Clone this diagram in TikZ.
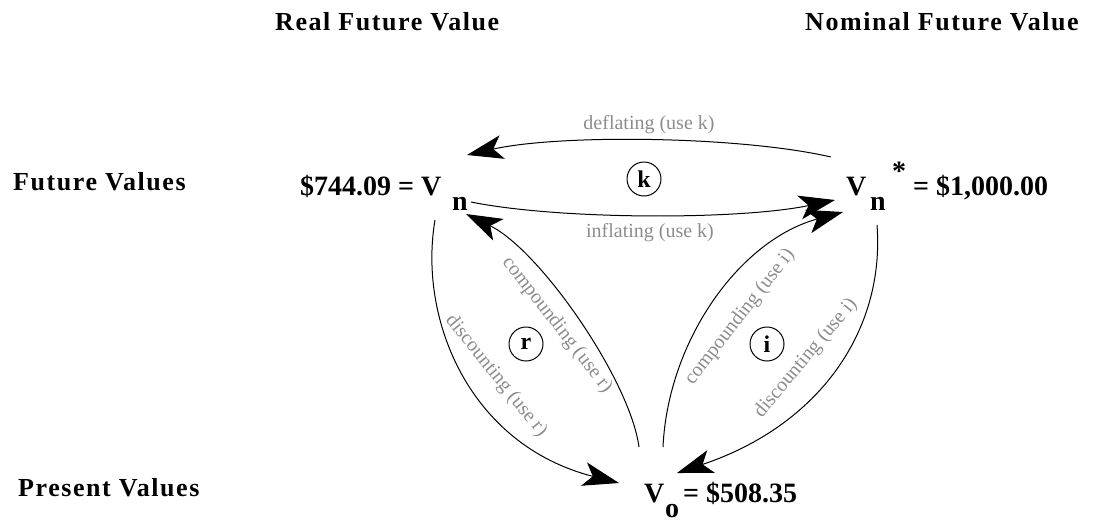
\documentclass[tikz,border=0pt]{standalone}
\usepackage{fontspec}
\setmainfont{Liberation Serif}
\newfontfamily\titlefont[LetterSpace=6]{Liberation Serif}
\usetikzlibrary{arrows.meta}
\tikzset{
  title/.style={anchor=base west, inner sep=0pt, font=\titlefont\bfseries\fontsize{26}{30}\selectfont},
  val/.style={anchor=base west, inner sep=0pt, font=\bfseries\fontsize{28}{32}\selectfont},
  lbl/.style={inner sep=0pt, text=black!45, font=\fontsize{20}{24}\selectfont},
  rate/.style={circle, draw, line width=1pt, minimum size=34pt, inner sep=0pt, font=\bfseries\fontsize{24}{28}\selectfont},
  arr/.style={line width=1pt, -{Stealth[length=36pt,width=24pt,inset=9pt]}}
}
\begin{document}
\begin{tikzpicture}[x=1pt,y=-1pt]
\useasboundingbox (0,0) rectangle (1093,523);
% titles
\node[title] (trf) at (275,30) {Real Future Value};
\node[title] (tnf) at (805,30) {Nominal Future Value};
\node[title] (tfv) at (13,190) {Future Values};
\node[title] (tpv) at (18,496) {Present Values};
% values
\node[val] (vl) at (300,195) {\$744.09 = V};
\node[val] (vln) at (452,210) {n};
\node[val] (vr) at (846,195) {V};
\node[val] (vrn) at (870,210) {n};
\node[val] (vrs) at (892,180) {*};
\node[val] (vre) at (913,195) {= \$1,000.00};
\node[val] (vb) at (644,502) {V};
\node[val] (vbo) at (665,517) {o};
\node[val] (vbe) at (683,502) {= \$508.35};
% rate circles
\node[rate] (k) at (644,179) {k};
\node[rate] (r) at (526,344) {r};
\node[rate] (i) at (767,344) {i};
% connector end points
\coordinate (defS) at (831,157);
\coordinate (defE) at (467,155);
\coordinate (infS) at (471,202);
\coordinate (infE) at (835,200);
\coordinate (drS) at (435,220);
\coordinate (drE) at (619,483);
\coordinate (crS) at (639,447);
\coordinate (crE) at (466,214);
\coordinate (ciS) at (663,447);
\coordinate (ciE) at (843,212);
\coordinate (diS) at (877,225);
\coordinate (diE) at (677,473);
% connectors
\draw[arr] (defS) .. controls (740,136) and (560,134) .. (defE);
\draw[arr] (infS) .. controls (560,220) and (740,220) .. (infE);
\draw[arr] (drS) .. controls (418,320) and (470,445) .. (drE);
\draw[arr] (crS) .. controls (630,380) and (540,250) .. (crE);
\draw[arr] (ciS) .. controls (668,340) and (740,240) .. (ciE);
\draw[arr] (diS) .. controls (885,330) and (820,425) .. (diE);
% labels
\node[lbl] (ldef) at (649,125) {deflating (use k)};
\node[lbl] (linf) at (650,233) {inflating (use k)};
\node[lbl, rotate=-52] (lcr) at (557,325) {compounding (use r)};
\node[lbl, rotate=-51] (ldr) at (496,376) {discounting (use r)};
\node[lbl, rotate=52] (lci) at (740,317) {compounding (use i)};
\node[lbl, rotate=50] (ldi) at (806,358) {discounting (use i)};
\end{tikzpicture}
\end{document}
